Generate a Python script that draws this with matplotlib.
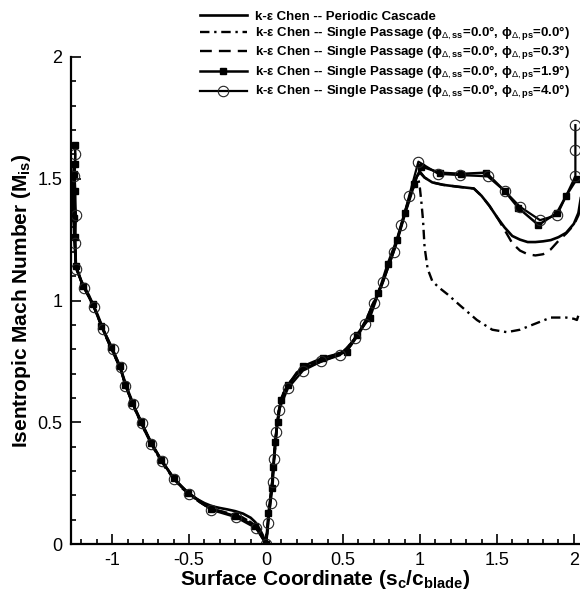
import matplotlib
matplotlib.use("Agg")
import matplotlib.pyplot as plt
from matplotlib.ticker import MultipleLocator, FormatStrFormatter
import numpy as np

plt.rcParams['font.family'] = ['Liberation Sans', 'DejaVu Sans']
plt.rcParams['mathtext.fontset'] = 'custom'
plt.rcParams['mathtext.rm'] = 'Liberation Sans'
plt.rcParams['mathtext.it'] = 'Liberation Sans:italic'
plt.rcParams['mathtext.bf'] = 'Liberation Sans:bold'

# periodic cascade (solid, no symbols)
x_pc = [-1.25, -1.255, -1.245, -1.235, -1.20, -1.15, -1.10, -1.05, -1.00, -0.95, -0.90, -0.85,
        -0.80, -0.75, -0.70, -0.65, -0.60, -0.55, -0.50, -0.45, -0.40, -0.35, -0.30, -0.25,
        -0.20, -0.15, -0.10, -0.07, -0.04, -0.02, 0.0, 0.01, 0.02, 0.03, 0.04, 0.05, 0.06,
        0.07, 0.085, 0.10, 0.12, 0.15, 0.20, 0.25, 0.30, 0.40, 0.50, 0.55, 0.60, 0.65, 0.70,
        0.75, 0.80, 0.85, 0.90, 0.95, 0.98, 1.00, 1.03, 1.08, 1.15, 1.25, 1.35, 1.40, 1.45,
        1.50, 1.55, 1.60, 1.65, 1.70, 1.75, 1.80, 1.85, 1.90, 1.95, 2.00, 2.03, 2.045]
m_pc = [1.55, 1.40, 1.25, 1.14, 1.08, 1.02, 0.95, 0.87, 0.80, 0.73, 0.635, 0.555,
        0.485, 0.42, 0.365, 0.315, 0.272, 0.235, 0.208, 0.185, 0.168, 0.155, 0.148, 0.142,
        0.135, 0.125, 0.108, 0.09, 0.06, 0.035, 0.0, 0.06, 0.13, 0.19, 0.25, 0.33, 0.40,
        0.48, 0.55, 0.595, 0.625, 0.655, 0.70, 0.72, 0.735, 0.76, 0.785, 0.815, 0.86, 0.915, 0.99,
        1.06, 1.15, 1.24, 1.35, 1.45, 1.51, 1.525, 1.505, 1.485, 1.475, 1.467, 1.46, 1.43, 1.39,
        1.343, 1.30, 1.265, 1.25, 1.24, 1.24, 1.243, 1.248, 1.26, 1.278, 1.315, 1.36, 1.42]

# single passage, shared part up to the peak
x_sp = [-1.245, -1.25, -1.245, -1.235, -1.20, -1.15, -1.10, -1.05, -1.00, -0.95, -0.90, -0.85,
        -0.80, -0.75, -0.70, -0.65, -0.60, -0.55, -0.50, -0.45, -0.40, -0.35, -0.30, -0.25,
        -0.20, -0.15, -0.10, -0.07, -0.04, -0.02, 0.0, 0.01, 0.02, 0.03, 0.04, 0.05, 0.06,
        0.07, 0.085, 0.10, 0.12, 0.15, 0.20, 0.25, 0.30, 0.40, 0.50, 0.55, 0.60, 0.65, 0.70,
        0.75, 0.80, 0.85, 0.90, 0.95]
m_sp = [1.52, 1.40, 1.25, 1.14, 1.075, 1.015, 0.945, 0.865, 0.795, 0.725, 0.63, 0.55,
        0.48, 0.415, 0.36, 0.31, 0.268, 0.232, 0.205, 0.18, 0.16, 0.145, 0.135, 0.128,
        0.118, 0.108, 0.09, 0.07, 0.045, 0.025, 0.0, 0.065, 0.135, 0.195, 0.255, 0.335, 0.405,
        0.485, 0.555, 0.60, 0.63, 0.66, 0.705, 0.725, 0.74, 0.765, 0.79, 0.82, 0.865, 0.92, 0.995,
        1.065, 1.155, 1.245, 1.355, 1.455]

# phi_ps = 0.0 (dash-dot) after the peak
x_sp00 = [0.99, 1.0, 1.01, 1.02, 1.03, 1.05, 1.08, 1.12, 1.18, 1.26, 1.37, 1.47, 1.565,
          1.65, 1.75, 1.85, 1.95, 2.0, 2.02, 2.03]
m_sp00 = [1.50, 1.46, 1.40, 1.33, 1.22, 1.13, 1.08, 1.055, 1.025, 0.98, 0.92, 0.88, 0.87,
          0.88, 0.905, 0.93, 0.93, 0.925, 0.92, 0.94]

# phi_ps = 0.3 (dashed) after the peak
x_sp03 = [0.98, 1.00, 1.03, 1.08, 1.15, 1.25, 1.35, 1.40, 1.45, 1.50, 1.55, 1.60, 1.65,
          1.70, 1.75, 1.80, 1.85, 1.90, 1.95, 2.00, 2.03, 2.045]
m_sp03 = [1.51, 1.53, 1.505, 1.485, 1.475, 1.467, 1.46, 1.43, 1.39, 1.343, 1.29, 1.235, 1.205,
          1.19, 1.185, 1.19, 1.21, 1.245, 1.275, 1.31, 1.35, 1.40]

# phi_ps = 1.9 (filled squares)
x_sp19 = [-1.24, -1.24, -1.245, -1.24, -1.245, -1.24, -1.235, -1.19, -1.125, -1.07, -1.01,
          -0.95, -0.915, -0.87, -0.81, -0.745, -0.68, -0.60, -0.505, -0.36, -0.20, -0.07, 0.0,
          0.015, 0.037, 0.047, 0.058, 0.076, 0.097, 0.143, 0.24, 0.37, 0.525, 0.59, 0.675, 0.73,
          0.79, 0.85, 0.90, 0.96, 1.01, 1.13, 1.27, 1.43, 1.55, 1.64, 1.77, 1.89, 1.95, 2.02]
m_sp19 = [1.64, 1.56, 1.52, 1.45, 1.34, 1.26, 1.14, 1.06, 0.985, 0.895, 0.81,
          0.73, 0.655, 0.58, 0.50, 0.415, 0.345, 0.27, 0.21, 0.145, 0.115, 0.075, 0.0,
          0.127, 0.23, 0.316, 0.42, 0.50, 0.59, 0.653, 0.73, 0.765, 0.79, 0.86, 0.93, 1.03,
          1.15, 1.25, 1.36, 1.48, 1.55, 1.525, 1.52, 1.525, 1.45, 1.38, 1.31, 1.36, 1.43, 1.50]

# phi_ps = 4.0 (open circles)
x_sp40 = [-1.24, -1.245, -1.235, -1.24, -1.235, -1.18, -1.12, -1.06, -0.995, -0.945, -0.915,
          -0.865, -0.805, -0.745, -0.675, -0.595, -0.50, -0.355, -0.195, -0.065, 0.0, 0.013,
          0.03, 0.045, 0.052, 0.065, 0.084, 0.143, 0.24, 0.36, 0.48, 0.58, 0.64, 0.70, 0.76,
          0.83, 0.88, 0.93, 0.99, 1.12, 1.26, 1.44, 1.55, 1.65, 1.78, 1.89, 2.01, 2.01, 2.01]
m_sp40 = [1.60, 1.51, 1.35, 1.235, 1.13, 1.05, 0.975, 0.885, 0.80, 0.725, 0.65,
          0.575, 0.495, 0.41, 0.34, 0.265, 0.205, 0.14, 0.11, 0.065, 0.0, 0.086,
          0.17, 0.255, 0.35, 0.46, 0.55, 0.64, 0.712, 0.75, 0.775, 0.845, 0.905, 0.99, 1.076,
          1.20, 1.31, 1.43, 1.57, 1.52, 1.515, 1.51, 1.45, 1.385, 1.33, 1.35, 1.51, 1.62, 1.72]

labels = [
    'k-ε Chen -- Periodic Cascade',
    r'k-ε Chen -- Single Passage (ϕ$_{\Delta,\mathbf{ss}}$=0.0°, ϕ$_{\Delta,\mathbf{ps}}$=0.0°)',
    r'k-ε Chen -- Single Passage (ϕ$_{\Delta,\mathbf{ss}}$=0.0°, ϕ$_{\Delta,\mathbf{ps}}$=0.3°)',
    r'k-ε Chen -- Single Passage (ϕ$_{\Delta,\mathbf{ss}}$=0.0°, ϕ$_{\Delta,\mathbf{ps}}$=1.9°)',
    r'k-ε Chen -- Single Passage (ϕ$_{\Delta,\mathbf{ss}}$=0.0°, ϕ$_{\Delta,\mathbf{ps}}$=4.0°)',
]

fig = plt.figure(figsize=(5.8, 5.96), dpi=100)
ax = fig.add_axes([0.1217, 0.0872, 0.8783, 0.8172])

ax.plot(x_pc, m_pc, '-', color='black', lw=1.9, label=labels[0])
ax.plot(x_sp + x_sp00, m_sp + m_sp00, color='black', lw=1.7,
        dashes=(4, 2, 1, 2), label=labels[1])
ax.plot(x_sp + x_sp03, m_sp + m_sp03, color='black', lw=1.7,
        dashes=(5, 3), label=labels[2])
ax.plot(x_sp19, m_sp19, '-', color='black', lw=1.8, marker='s', ms=4.5,
        mfc='black', mec='black', label=labels[3])
ax.plot(x_sp40, m_sp40, '-', color='black', lw=1.6, marker='o', ms=7.5,
        mfc='none', mec='#222222', mew=0.8, label=labels[4])

ax.set_xlim(-1.27, 2.04)
ax.set_ylim(0, 2)
ax.spines['top'].set_visible(False)
ax.spines['right'].set_visible(False)
ax.spines['left'].set_linewidth(1.6)
ax.spines['bottom'].set_linewidth(1.6)
ax.xaxis.set_major_locator(MultipleLocator(0.5))
ax.xaxis.set_minor_locator(MultipleLocator(0.1))
ax.yaxis.set_major_locator(MultipleLocator(0.5))
ax.yaxis.set_minor_locator(MultipleLocator(0.1))
ax.xaxis.set_major_formatter(FormatStrFormatter('%g'))
ax.yaxis.set_major_formatter(FormatStrFormatter('%g'))
ax.tick_params(which='both', direction='in', top=False, right=False, labelsize=13, width=1.2)
ax.tick_params(which='major', length=7, pad=6)
ax.tick_params(which='minor', length=3.5)

ax.set_xlabel(r'Surface Coordinate (s$_\mathbf{c}$/c$_\mathbf{blade}$)',
              fontsize=15, fontweight='bold', labelpad=-1)
ax.set_ylabel(r'Isentropic Mach Number (M$_\mathbf{is}$)',
              fontsize=15, fontweight='bold', labelpad=3)

leg = ax.legend(loc='upper left', bbox_to_anchor=(0.333, 0.993),
                bbox_transform=fig.transFigure, frameon=False, borderpad=0,
                handlelength=3.6, handletextpad=0.6, labelspacing=0.12,
                prop={'weight': 'bold', 'size': 9.5})

fig.savefig('out.png', dpi=100)
